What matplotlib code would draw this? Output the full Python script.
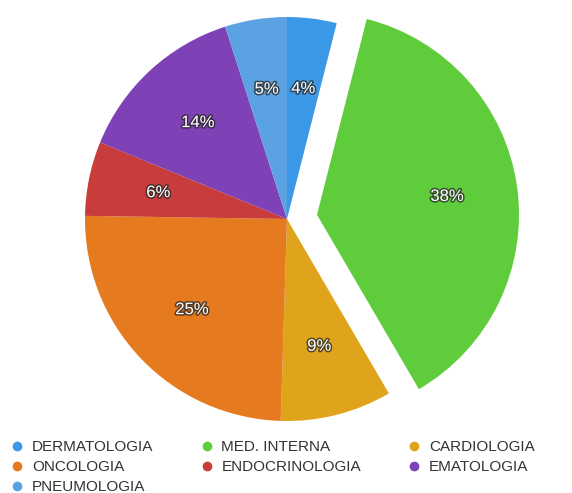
import matplotlib
matplotlib.use('Agg')
import matplotlib.pyplot as plt
import matplotlib.patheffects as pe
from matplotlib.lines import Line2D

# slices clockwise from 12 o'clock
labels = ['DERMATOLOGIA', 'MED. INTERNA', 'CARDIOLOGIA', 'ONCOLOGIA',
          'ENDOCRINOLOGIA', 'EMATOLOGIA', 'PNEUMOLOGIA']
values = [4, 38, 9, 25, 6, 14, 5]
colors = ['#3b98e6', '#5fcc3c', '#e0a41c', '#e57a1f', '#c83d3b', '#7f41b6', '#5ba2e2']
explode = [0, 0.15, 0, 0, 0, 0, 0]

# legend order (matplotlib fills legend column by column)
legend_order = ['DERMATOLOGIA', 'ONCOLOGIA', 'PNEUMOLOGIA',
                'MED. INTERNA', 'ENDOCRINOLOGIA',
                'CARDIOLOGIA', 'EMATOLOGIA']

plt.rcParams['font.family'] = ['Liberation Sans', 'DejaVu Sans']

fig = plt.figure(figsize=(5.72, 4.93), dpi=100)
# place the pie so its centre lands near (287, 219) px, radius ~202 px
r_px = 202
cx, cy = 287, 219
W, H = 572, 493
ax = fig.add_axes([(cx - r_px) / W, 1 - (cy + r_px) / H, 2 * r_px / W, 2 * r_px / H])

# show the original (rounded) percentages, they add up to 101
pct_iter = iter(values)
wedges, texts, autotexts = ax.pie(values, colors=colors, explode=explode,
                                  startangle=90, counterclock=False,
                                  autopct=lambda p: '%d%%' % next(pct_iter),
                                  pctdistance=0.65,
                                  wedgeprops=dict(linewidth=0))
ax.set_xlim(-1, 1)
ax.set_ylim(-1, 1)
ax.set_aspect('equal')
ax.axis('off')

for t in autotexts:
    t.set_color('white')
    t.set_fontsize(12)
    t.set_path_effects([pe.withStroke(linewidth=2.2, foreground=(0.15, 0.15, 0.15, 0.75))])

color_map = dict(zip(labels, colors))
handles = [Line2D([], [], marker='o', linestyle='', markersize=7,
                  markerfacecolor=color_map[name], markeredgecolor='none', label=name)
           for name in legend_order]

fig.legend(handles=handles, loc='lower left', bbox_to_anchor=(-0.007, -0.03), ncol=3,
           frameon=False, fontsize=11, handletextpad=0.45, columnspacing=3.0,
           labelspacing=0.38, handlelength=1.0, labelcolor='#333333')

fig.savefig('out.png', dpi=100)
